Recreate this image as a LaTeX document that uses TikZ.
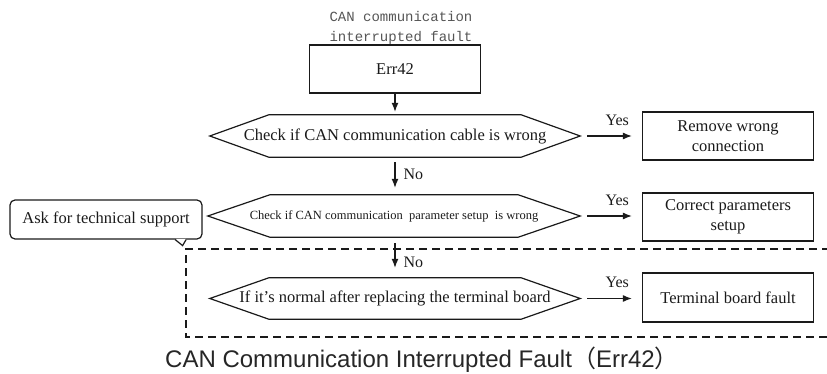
\documentclass[tikz,border=0pt]{standalone}
\usepackage{fontspec}
\setmainfont{Liberation Serif}
\newfontfamily\sansf{Liberation Sans}
\newfontfamily\monof{Liberation Mono}
\newfontfamily\cjkf{Noto Sans CJK SC}
\usetikzlibrary{arrows.meta,calc}
\definecolor{ink}{HTML}{1A1A1A}
\definecolor{monogray}{HTML}{555555}
\newcommand\hexpath[2]{%
  \draw[hexline] (#1.west) -- ($(#1.north west)+(#2,0)$) -- ($(#1.north east)+(-#2,0)$) -- (#1.east) -- ($(#1.south east)+(-#2,0)$) -- ($(#1.south west)+(#2,0)$) -- cycle;}
\begin{document}
\begin{tikzpicture}[x=1pt,y=-1pt,
  every node/.style={inner sep=0pt, text=ink},
  txt/.style={font=\fontsize{16.5}{20}\selectfont},
  box/.style={txt, draw=ink, line width=1.2pt, minimum width=171pt, minimum height=48pt, align=center},
  hexnode/.style={txt, minimum width=370pt, minimum height=42pt},
  hexline/.style={draw=ink, line width=1.2pt, line join=miter},
  arr/.style={draw=ink, line width=1.2pt, -{Latex[length=9pt,width=7pt]}},
  lbl/.style={font=\fontsize{16}{19}\selectfont},
  dashline/.style={draw=ink, line width=1.2pt, dash pattern=on 8pt off 5pt},
]
\useasboundingbox (0,0) rectangle (827,374);

% header text
\node[font=\monof\fontsize{14}{20.5}\selectfont, text=monogray, align=center] (head) at (401,28) {CAN communication\\interrupted fault};

% boxes and decisions
\node[box] (err) at (395,69) {Err42};
\node[hexnode] (h1) at (395,136) {Check if CAN communication cable is wrong};
\node[box] (b1) at (728,136) {Remove wrong\\connection};
\node[hexnode, minimum width=372pt, font=\fontsize{12.5}{15}\selectfont] (h2) at (394,216) {Check if CAN communication\ \ parameter setup\ \ is wrong};
\node[box] (b2) at (728,217) {Correct parameters\\setup};
\node[hexnode, minimum height=41pt] (h3) at (395,298.5) {If it’s normal after replacing the terminal board};
\node[box, minimum height=49pt] (b3) at (728,297.5) {Terminal board fault};

\hexpath{h1}{59}
\hexpath{h2}{62}
\hexpath{h3}{59}

% callout
\node[txt, draw=ink, line width=1.2pt, rounded corners=5pt, minimum width=192pt, minimum height=39pt] (ask) at (106,219.5) {Ask for technical support};
\fill[white] ($(ask.south east)+(-27,-0.7)$) -- ($(ask.south east)+(-16.5,-0.7)$) -- ($(ask.south east)+(-20,5)$) -- cycle;
\draw[ink, line width=1.2pt, line join=miter] ($(ask.south east)+(-27.5,0)$) -- ($(ask.south east)+(-20,6)$) -- ($(ask.south east)+(-16.5,0)$);

% dashed region
\draw[dashline] (830,249) -- (186,249) -- (186,337) -- (830,337);

% connectors
\draw[arr, shorten >=3pt] (err.south) -- (h1.north);
\draw[arr, shorten <=5pt, shorten >=7pt] (h1.south) -- (h1.south |- h2.north) node[lbl, pos=0.45, right=8pt] {No};
\draw[arr, shorten <=6pt, shorten >=10pt] (h3.north |- h2.south) -- (h3.north) node[lbl, pos=0.62, right=8pt] {No};
\draw[arr, shorten <=7pt, shorten >=10pt] (h1.east) -- (b1.west) node[lbl, pos=0.6, above=10pt] {Yes};
\draw[arr, shorten <=7pt, shorten >=10pt] (h2.east) -- (h2.east -| b2.west) node[lbl, pos=0.6, above=10pt] {Yes};
\draw[arr, shorten <=7pt, shorten >=10pt] (h3.east) -- (h3.east -| b3.west) node[lbl, pos=0.6, above=10pt] {Yes};

% title
\node[font=\sansf\fontsize{24}{28}\selectfont, text=black!85, anchor=base west] (title) at (165,367) {CAN Communication Interrupted Fault{\cjkf （}Err42{\cjkf ）}};
\end{tikzpicture}
\end{document}
